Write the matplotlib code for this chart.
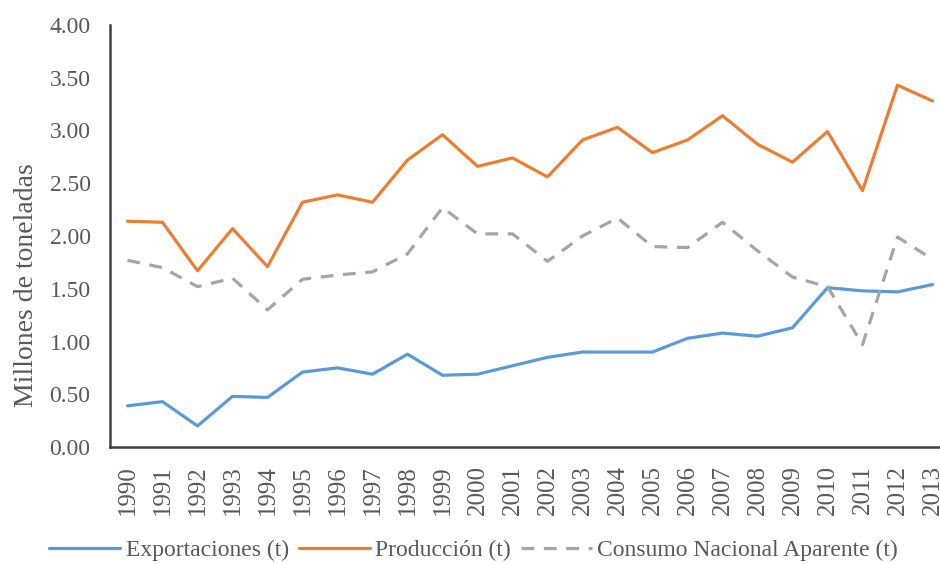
import matplotlib
matplotlib.use("Agg")
import matplotlib.pyplot as plt

# 数据：百万吨
years = [str(y) for y in range(1990, 2014)]
exportaciones = [0.39, 0.43, 0.20, 0.48, 0.47, 0.71, 0.75, 0.69, 0.88, 0.68, 0.69, 0.77,
                 0.85, 0.90, 0.90, 0.90, 1.03, 1.08, 1.05, 1.13, 1.51, 1.48, 1.47, 1.54]
produccion = [2.14, 2.13, 1.67, 2.07, 1.71, 2.32, 2.39, 2.32, 2.72, 2.96, 2.66, 2.74,
              2.56, 2.91, 3.03, 2.79, 2.91, 3.14, 2.87, 2.70, 2.99, 2.43, 3.43, 3.28]
consumo = [1.77, 1.70, 1.52, 1.60, 1.30, 1.59, 1.63, 1.66, 1.83, 2.27, 2.02, 2.02,
           1.76, 2.00, 2.17, 1.90, 1.89, 2.13, 1.86, 1.61, 1.52, 0.97, 1.99, 1.78]
y_ticks = [0.0, 0.5, 1.0, 1.5, 2.0, 2.5, 3.0, 3.5, 4.0]

plt.rcParams["font.family"] = ["Liberation Serif", "DejaVu Serif"]
grey_txt = "#595959"

fig = plt.figure(figsize=(9.4, 5.64), dpi=100)
# 右侧被裁切：坐标区延伸到画布之外
ax = fig.add_axes([110 / 940, 1 - 447 / 564, 840 / 940, 422 / 564])

x = list(range(len(years)))
ax.plot(x, exportaciones, color="#5B9BD5", lw=2.3, label="Exportaciones (t)", solid_capstyle="round")
ax.plot(x, produccion, color="#ED7D31", lw=2.3, label="Producción (t)", solid_capstyle="round")
ax.plot(x, consumo, color="#A5A5A5", lw=2.3, dashes=(4, 3), label="Consumo Nacional Aparente (t)")

ax.set_xlim(-0.5, len(years) - 0.5)
ax.set_ylim(0, 4)
ax.set_yticks(y_ticks)
ax.set_yticklabels([f"{v:.2f}" for v in y_ticks])
ax.set_xticks(x)
ax.set_xticklabels(years, rotation=90)
ax.tick_params(axis="both", length=0, colors=grey_txt)
ax.tick_params(axis="y", labelsize=17, pad=14)
ax.tick_params(axis="x", labelsize=18, pad=13)

for side in ("top", "right"):
    ax.spines[side].set_visible(False)
for side in ("left", "bottom"):
    ax.spines[side].set_color("#404040")
    ax.spines[side].set_linewidth(1.8)

ax.set_ylabel("Millones de toneladas", fontsize=20, color=grey_txt)
ax.yaxis.set_label_coords(-0.085, 0.384)

fig.legend(loc="center left", bbox_to_anchor=(40 / 940, 1 - 550 / 564), ncol=3, frameon=False,
           fontsize=17, labelcolor=grey_txt, handlelength=3.0, handletextpad=0.25,
           columnspacing=0.4, borderaxespad=0.0)

fig.savefig("out.png", dpi=100)
